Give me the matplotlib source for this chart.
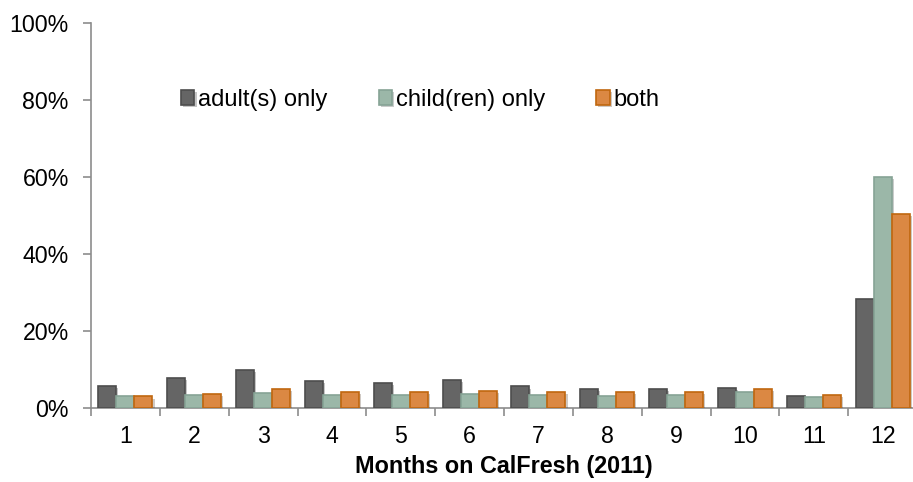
import numpy as np
import matplotlib.pyplot as plt
import matplotlib.patheffects as pe
from matplotlib.ticker import FixedLocator, FuncFormatter

plt.rcParams['font.family'] = ['Liberation Sans', 'DejaVu Sans']

months = [str(m) for m in range(1, 13)]
adults = [5.8, 7.7, 9.8, 7.0, 6.4, 7.2, 5.6, 5.0, 5.0, 5.3, 3.2, 28.3]
children = [3.0, 3.4, 4.0, 3.5, 3.4, 3.6, 3.5, 3.2, 3.5, 4.2, 2.8, 60.0]
both = [3.0, 3.7, 5.0, 4.2, 4.2, 4.5, 4.1, 4.1, 4.2, 4.9, 3.3, 50.5]

series = [
    ('adult(s) only', adults, '#656565', '#4d4d4d'),
    ('child(ren) only', children, '#9bb7a8', '#86a395'),
    ('both', both, '#db8843', '#c0670f'),
]

fig = plt.figure(figsize=(9.13, 4.82), dpi=100)
ax = fig.add_axes([91 / 913, 1 - 408 / 482, 826 / 913, (408 - 23) / 482])

x = np.arange(len(months))
w = 0.262
shadow = [pe.SimplePatchShadow(offset=(1.5, -1.5), alpha=0.25), pe.Normal()]
for i, (name, vals, fc, ec) in enumerate(series):
    ax.bar(x + (i - 1) * w, vals, width=w, color=fc, edgecolor=ec,
           linewidth=1.2, label=name, path_effects=shadow, zorder=3)

ax.set_xlim(-0.5, len(months) - 0.5)
ax.set_ylim(0, 100)
ax.yaxis.set_major_locator(FixedLocator([0, 20, 40, 60, 80, 100]))
ax.yaxis.set_major_formatter(FuncFormatter(lambda v, p: '%d%%' % v))

ax.set_xticks(x)
ax.set_xticklabels(months)
ax.xaxis.set_minor_locator(FixedLocator(np.arange(-0.5, len(months), 1.0)))
ax.tick_params(axis='x', which='major', length=0, labelsize=16.7, pad=12)
ax.tick_params(axis='x', which='minor', length=6, color='#8c8c8c', width=1.2)
ax.tick_params(axis='y', length=6, color='#8c8c8c', width=1.2, labelsize=16.7, pad=10)

for s in ['top', 'right']:
    ax.spines[s].set_visible(False)
for s in ['left', 'bottom']:
    ax.spines[s].set_color('#8c8c8c')
    ax.spines[s].set_linewidth(1.2)

ax.set_xlabel('Months on CalFresh (2011)', fontsize=16.8, fontweight='bold', labelpad=5)

fig.legend(loc='center left', bbox_to_anchor=(181 / 913, 1 - 100 / 482), ncol=3,
           frameon=False, fontsize=17, handlelength=0.57, handleheight=0.57,
           handletextpad=0.17, columnspacing=2.15, borderaxespad=0, borderpad=0)

fig.savefig('out.png', dpi=100)
